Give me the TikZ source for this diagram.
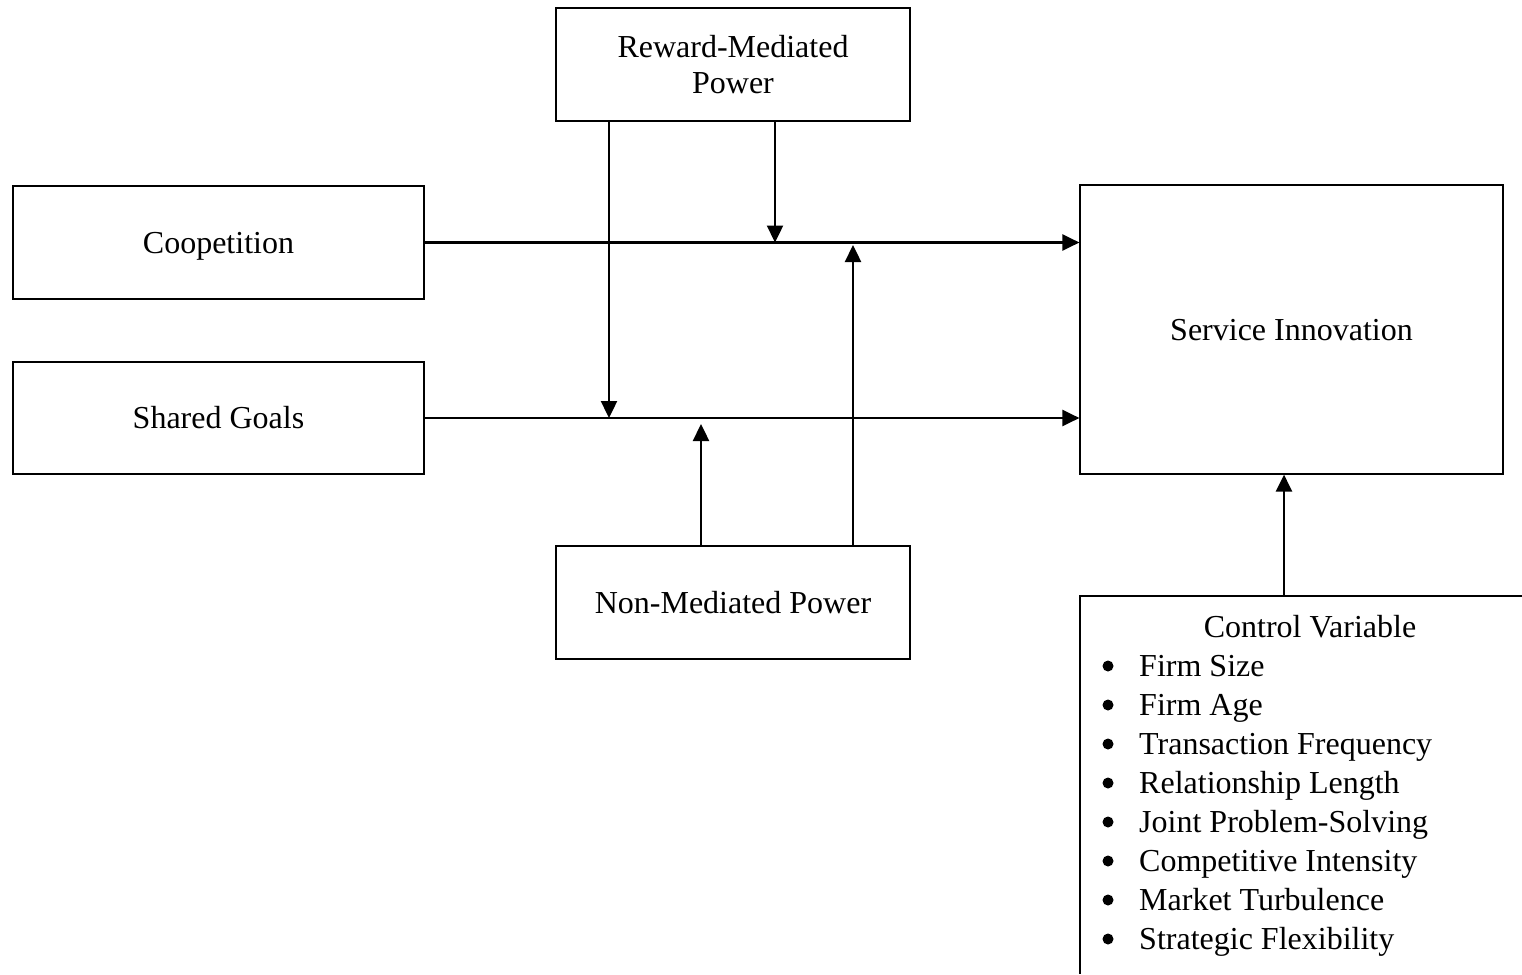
\documentclass[tikz,border=0pt]{standalone}
\usepackage{fontspec}
\setmainfont{Liberation Serif}
\usetikzlibrary{arrows.meta}
\begin{document}
\begin{tikzpicture}[x=1pt,y=-1pt,
  box/.style={draw,line width=1.2pt,inner sep=0pt,align=center,font=\fontsize{32}{36}\selectfont},
  onebox/.style={box,text height=25pt,text depth=4pt},
  arr/.style={line width=2.4pt,-{Triangle[length=17pt,width=16pt]}},
  txt/.style={inner sep=0pt,font=\fontsize{32}{36}\selectfont}]
\useasboundingbox (0,0) rectangle (1522,974);
\node[box,minimum width=354pt,minimum height=113pt] (rew) at (733,64.5) {Reward-Mediated\\Power};
\node[onebox,minimum width=411pt,minimum height=113pt] (coop) at (218.5,242.5) {Coopetition};
\node[onebox,minimum width=411pt,minimum height=112pt] (shared) at (218.5,418) {Shared Goals};
\node[onebox,minimum width=423pt,minimum height=289pt] (serv) at (1291.5,329.5) {Service Innovation};
\node[onebox,minimum width=354pt,minimum height=113pt] (non) at (733,602.5) {Non-Mediated Power};
% control variable box (open at right and bottom)
\coordinate (ctl) at (1284,596);
\draw[line width=1.2pt] (1522,596) -- (1080,596) -- (1080,974);
\node[txt] (ctltitle) at (1310,627) {Control Variable};
\foreach \t [count=\i from 0] in {Firm Size,Firm Age,Transaction Frequency,Relationship Length,Joint Problem-Solving,Competitive Intensity,Market Turbulence,Strategic Flexibility}{
  \node[txt,anchor=base west] (item\i) at (1139,676+39*\i) {\t};
  \fill (1108,666+39*\i) circle (5.5pt);
}
% main paths
\draw[arr] (coop.east) -- (serv.west |- coop.east);
\draw[arr] (shared.east) -- (serv.west |- shared.east);
% reward-mediated moderation
\coordinate (r1) at (609,0);
\coordinate (r2) at (775,0);
\draw[arr] (rew.south -| r1) -- (r1 |- shared.east);
\draw[arr] (rew.south -| r2) -- (r2 |- coop.east);
% non-mediated moderation
\coordinate (n1) at (701,424);
\coordinate (n2) at (853,245);
\draw[arr] (non.north -| n1) -- (n1);
\draw[arr] (non.north -| n2) -- (n2);
% control
\draw[arr] (ctl) -- (ctl |- serv.south);
\end{tikzpicture}
\end{document}
